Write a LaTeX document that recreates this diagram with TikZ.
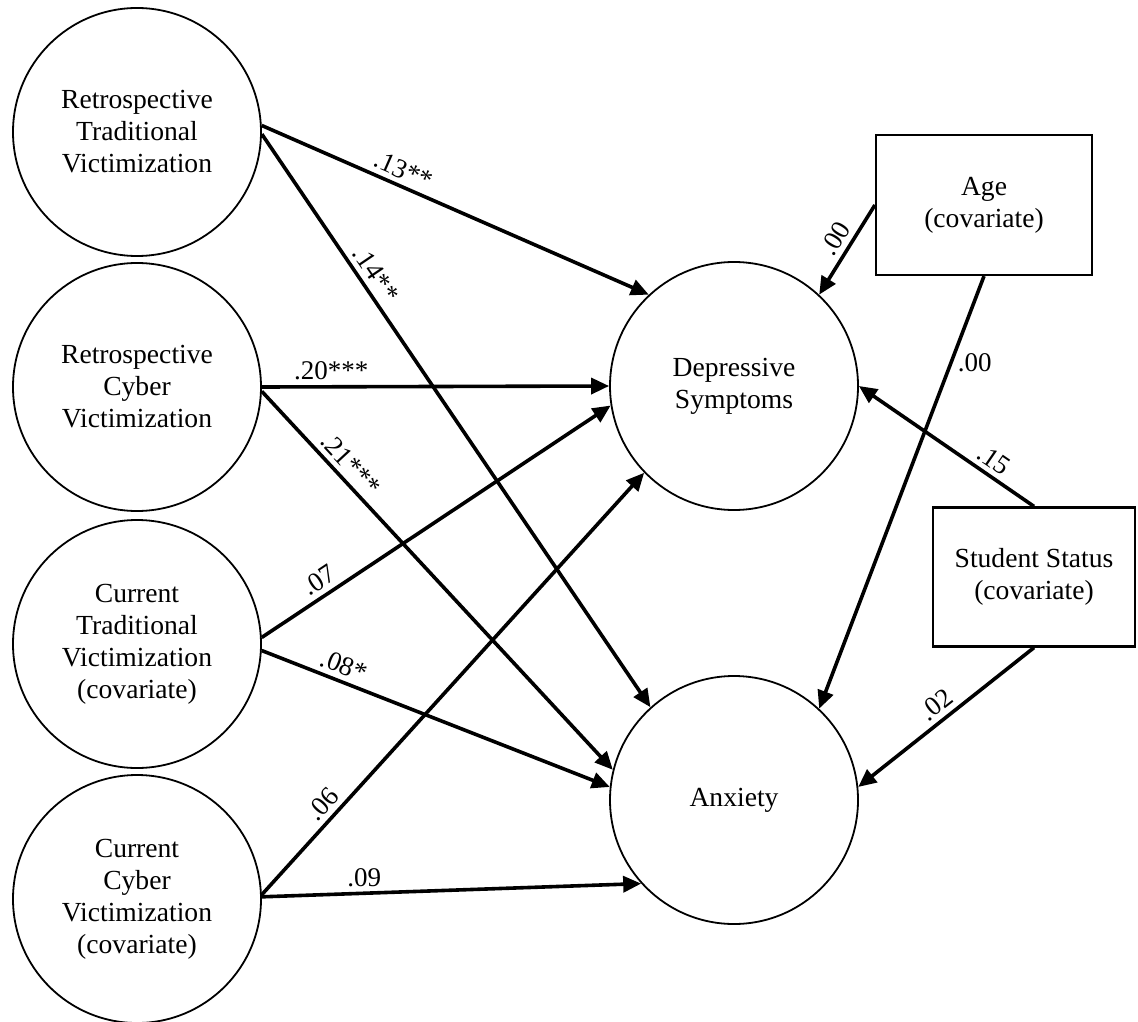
\documentclass[tikz,border=0pt]{standalone}
\usepackage{fontspec}
\setmainfont{Liberation Serif}
\usetikzlibrary{arrows.meta}
\begin{document}
\begin{tikzpicture}[x=0.5pt,y=-0.5pt,
  latent/.style={circle,draw,line width=0.9pt,minimum size=124pt,inner sep=0pt,align=center,font=\fontsize{13.8}{16}\selectfont},
  obs/.style={rectangle,draw,line width=1.1pt,inner sep=0pt,align=center,font=\fontsize{13.8}{16}\selectfont},
  arr/.style={line width=1.8pt,-{Triangle[length=9pt,width=8pt]}},
  coef/.style={font=\fontsize{13.5}{15}\selectfont,inner sep=2.5pt}
]
\useasboundingbox (0,0) rectangle (1138,1021);
\node[latent] (rt) at (137,132) {Retrospective\\Traditional\\Victimization};
\node[latent] (rc) at (137,387) {Retrospective\\Cyber\\Victimization};
\node[latent] (ct) at (137,644) {Current\\Traditional\\Victimization\\(covariate)};
\node[latent] (cc) at (137,899) {Current\\Cyber\\Victimization\\(covariate)};
\node[latent] (dep) at (734,386) {Depressive\\Symptoms};
\node[latent] (anx) at (734,800) {Anxiety};
\node[obs,minimum width=108pt,minimum height=70pt] (age) at (984,205) {Age\\(covariate)};
\node[obs,minimum width=101pt,minimum height=69.5pt] (stu) at (1034,577) {Student Status\\(covariate)};

\draw[arr] (rt.3) -- node[coef,sloped,above,pos=0.35]{.13**} (dep.133.7);
\draw[arr] (rt.-1) -- node[coef,sloped,above,pos=0.26]{.14**} (anx.132.5);
\draw[arr] (rc.0) -- node[coef,above,pos=0.2]{.20***} (dep.180);
\draw[arr] (rc.-2) -- node[coef,sloped,above,pos=0.22]{.21***} (anx.166);
\draw[arr] (ct.3) -- node[coef,sloped,above,pos=0.19]{.07} (dep.189);
\draw[arr] (ct.-3) -- node[coef,sloped,above,pos=0.22]{.08*} (anx.174);
\draw[arr] (cc.2) -- node[coef,sloped,above,pos=0.19]{.06} (dep.224);
\draw[arr] (cc.1) -- node[coef,above,pos=0.27]{.09} (anx.222);
\draw[arr] (age.west) -- node[coef,sloped,above,pos=0.47]{.00} (dep.47);
\draw[arr] (age.south) -- node[coef,right,pos=0.2]{.00} (anx.47.8);
\draw[arr] (stu.north) -- node[coef,sloped,above,pos=0.28]{.15} (dep.0);
\draw[arr] (stu.south) -- node[coef,sloped,above,pos=0.5]{.02} (anx.6);
\end{tikzpicture}
\end{document}
